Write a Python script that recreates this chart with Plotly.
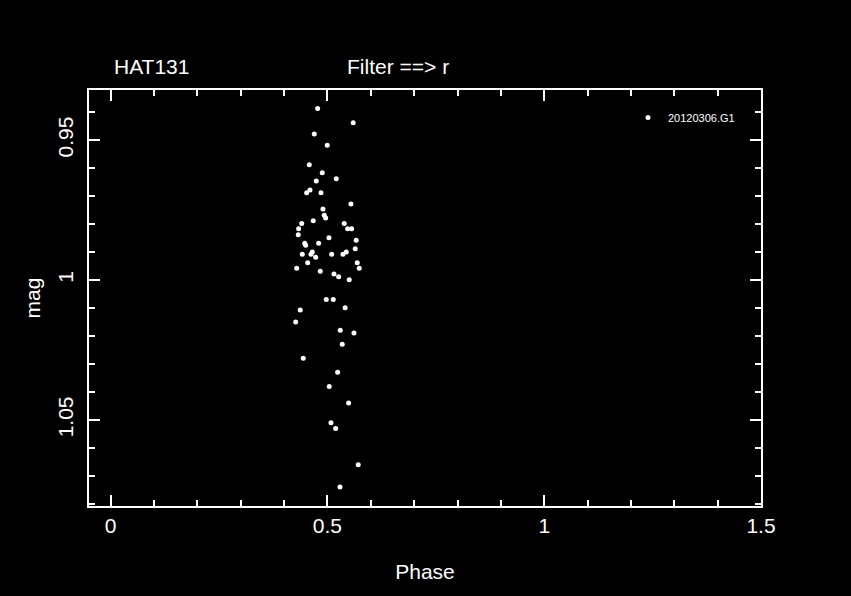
import plotly.graph_objects as go

# Phase-folded photometry, HAT131, filter r, night 20120306.G1
phase = [0.4774, 0.5594, 0.4696, 0.4995, 0.4581, 0.4880, 0.5203, 0.4742, 0.4597, 0.4521,
         0.4850, 0.5541, 0.4896, 0.4926, 0.4959, 0.4673, 0.4406, 0.5387, 0.4336, 0.5465,
         0.5558, 0.4327, 0.5035, 0.5664, 0.4475, 0.4498, 0.4797, 0.5641, 0.4419, 0.4650,
         0.4620, 0.4728, 0.5097, 0.5357, 0.5433, 0.4544, 0.5687, 0.4290, 0.4834, 0.5733,
         0.5150, 0.5258, 0.5502, 0.4972, 0.5134, 0.4373, 0.5408, 0.4267, 0.5295, 0.5611,
         0.5341, 0.4442, 0.5235, 0.5041, 0.5488, 0.5081, 0.5189, 0.5710, 0.5288]
mag = [0.9387, 0.9438, 0.9478, 0.9518, 0.9588, 0.9617, 0.9638, 0.9646, 0.9678, 0.9688,
       0.9688, 0.9728, 0.9746, 0.9768, 0.9778, 0.9788, 0.9798, 0.9798, 0.9817, 0.9817,
       0.9817, 0.9838, 0.9849, 0.9858, 0.9868, 0.9876, 0.9868, 0.9888, 0.9908, 0.9900,
       0.9908, 0.9918, 0.9908, 0.9908, 0.9900, 0.9938, 0.9938, 0.9958, 0.9968, 0.9958,
       0.9978, 0.9988, 0.9999, 1.0069, 1.0069, 1.0107, 1.0099, 1.0150, 1.0179, 1.0189,
       1.0229, 1.0279, 1.0329, 1.0380, 1.0439, 1.0510, 1.0530, 1.0660, 1.0739]
series_name = "20120306.G1"
object_name = "HAT131"
filter_label = "Filter ==> r"
x_ticks = [0, 0.5, 1, 1.5]
x_ticklabels = ["0", "0.5", "1", "1.5"]
y_ticks = [0.95, 1.0, 1.05]
y_ticklabels = ["0.95", "1", "1.05"]

FONT = "Liberation Sans"

fig = go.Figure()
fig.add_trace(go.Scatter(
    x=phase, y=mag, mode="markers", name=series_name,
    marker=dict(color="white", size=5, line=dict(width=0)),
))

axis_common = dict(
    showline=True, linecolor="white", linewidth=2, mirror="ticks",
    ticks="inside", tickcolor="white", tickwidth=2, ticklen=11,
    showgrid=False, zeroline=False,
    tickfont=dict(family=FONT, size=21, color="white"),
)

fig.update_xaxes(
    range=[-0.05, 1.5], tickvals=x_ticks, ticktext=x_ticklabels,
    minor=dict(dtick=0.1, tick0=0, ticks="inside", ticklen=6, tickcolor="white", tickwidth=2),
    title=dict(text="Phase", font=dict(family=FONT, size=21, color="white"), standoff=28),
    **axis_common,
)
fig.update_yaxes(
    range=[1.0807, 0.9321], tickvals=y_ticks, ticktext=y_ticklabels, tickangle=-90,
    ticklabelstandoff=6,
    minor=dict(dtick=0.01, tick0=0.95, ticks="inside", ticklen=6, tickcolor="white", tickwidth=2),
    title=dict(text="mag", font=dict(family=FONT, size=21, color="white"), standoff=7),
    **axis_common,
)

fig.add_annotation(text=object_name, xref="paper", yref="paper", x=(112 - 89) / 672, y=(506 - 66) / 416,
                   xanchor="left", yanchor="middle", showarrow=False,
                   font=dict(family=FONT, size=21, color="white"))
fig.add_annotation(text=filter_label, xref="paper", yref="paper", x=(345 - 89) / 672, y=(506 - 66) / 416,
                   xanchor="left", yanchor="middle", showarrow=False,
                   font=dict(family=FONT, size=21, color="white"))

fig.update_layout(
    width=851, height=596,
    paper_bgcolor="black", plot_bgcolor="black",
    margin=dict(l=89, r=90, t=90, b=90),
    showlegend=True,
    legend=dict(x=(628 - 89) / 672, y=(506 - 103) / 416, xanchor="left", yanchor="top",
                bgcolor="rgba(0,0,0,0)", font=dict(family=FONT, size=11, color="white"),
                borderwidth=0),
)

fig.write_html("out.html",
               config={"displayModeBar": False},
               post_script="document.body.style.margin='0';document.body.style.background='black';document.body.style.overflow='hidden';")
